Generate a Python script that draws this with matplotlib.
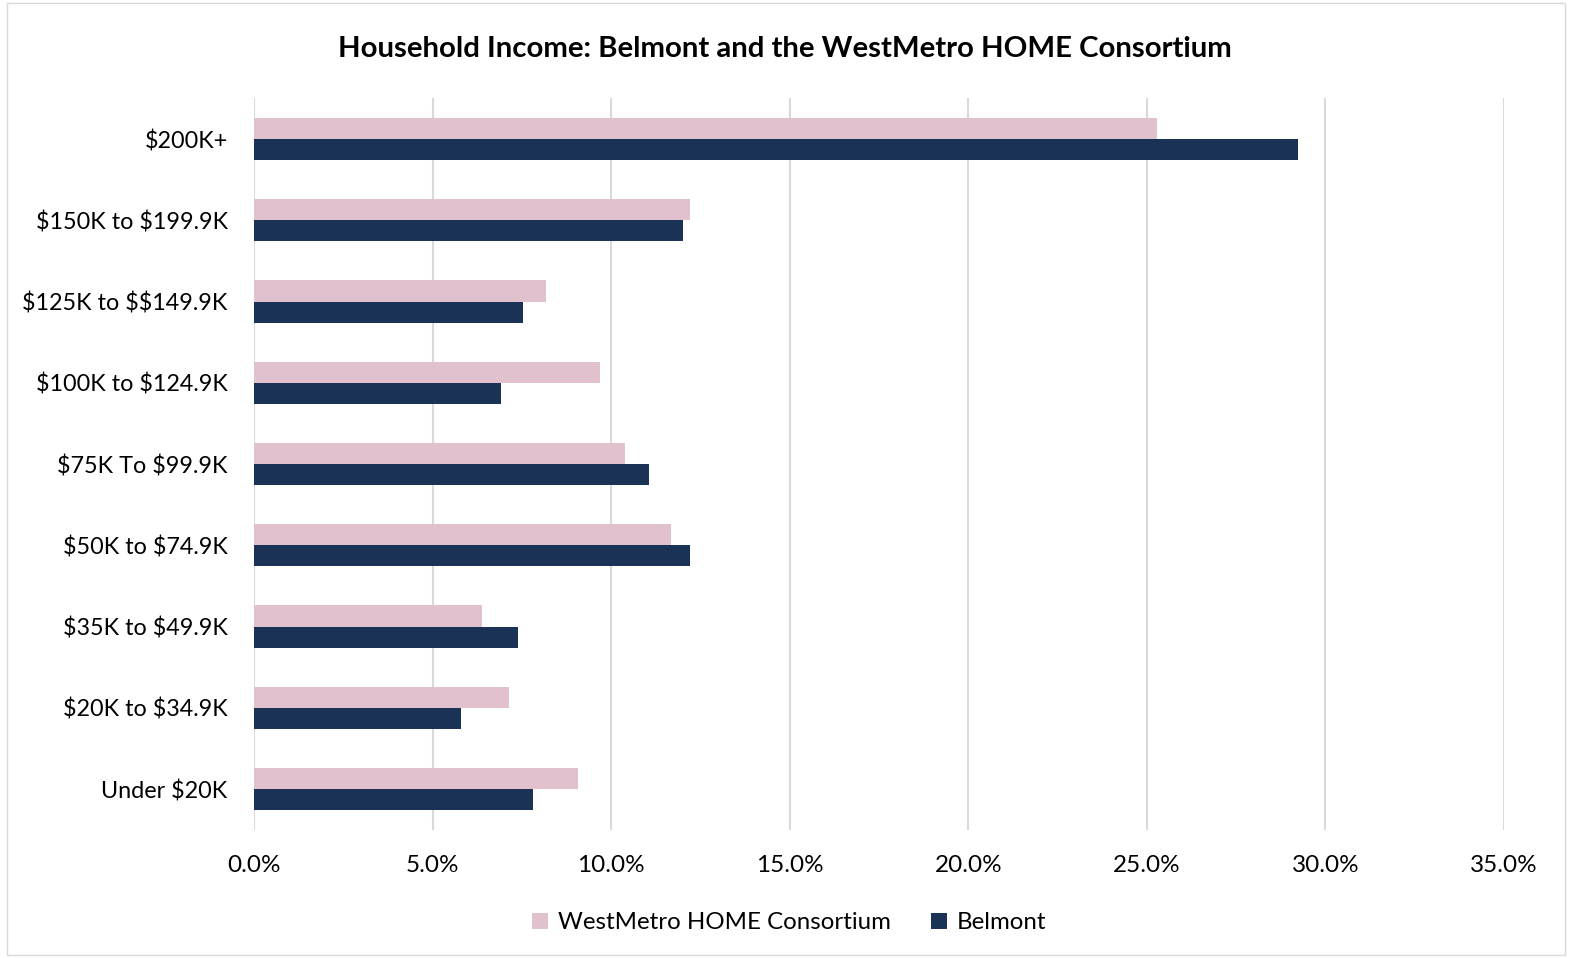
import matplotlib.pyplot as plt
from matplotlib.patches import Rectangle
from matplotlib.ticker import FuncFormatter

plt.rcParams['font.family'] = ['Lato', 'DejaVu Sans']
plt.rcParams['text.parse_math'] = False

categories = ['Under $20K', '$20K to $34.9K', '$35K to $49.9K', '$50K to $74.9K',
              '$75K To $99.9K', '$100K to $124.9K', '$125K to $$149.9K',
              '$150K to $199.9K', '$200K+']
westmetro = [9.07, 7.15, 6.37, 11.68, 10.40, 9.70, 8.17, 12.22, 25.27]
belmont = [7.82, 5.80, 7.40, 12.22, 11.06, 6.92, 7.54, 12.02, 29.23]

pink = '#E2C1CE'
navy = '#1B3257'

fig = plt.figure(figsize=(15.69, 9.58), dpi=100)
ax = fig.add_axes([0.1619, 0.134, 0.7967, 0.7633])

y = list(range(len(categories)))
h = 0.26
ax.barh([i + h / 2 for i in y], westmetro, height=h, color=pink,
        label='WestMetro HOME Consortium', zorder=3)
ax.barh([i - h / 2 for i in y], belmont, height=h, color=navy,
        label='Belmont', zorder=3)

ax.set_xlim(0, 35)
ax.set_ylim(-0.5, len(categories) - 0.5)
ax.set_xticks(range(0, 36, 5))
ax.xaxis.set_major_formatter(FuncFormatter(lambda v, p: f'{v:.1f}%'))
ax.set_yticks(y)
ax.set_yticklabels(categories)
ax.tick_params(axis='y', length=0, labelsize=16.8, colors='black', pad=19)
ax.tick_params(axis='x', length=0, labelsize=17.5, colors='black', pad=18)
ax.grid(axis='x', color='#D9D9D9', linewidth=1.5, zorder=0)
for s in ax.spines.values():
    s.set_visible(False)

fig.text(0.5, 0.949, 'Household Income: Belmont and the WestMetro HOME Consortium',
         ha='center', va='center', fontsize=21.2, fontweight='bold')

fig.legend(loc='center', bbox_to_anchor=(0.503, 0.037), ncol=2, frameon=False,
           fontsize=17.3, handlelength=0.65, handleheight=0.65, handletextpad=0.4,
           columnspacing=1.7)

fig.patches.append(Rectangle((0.0045, 0.003), 0.993, 0.994, transform=fig.transFigure,
                             fill=False, edgecolor='#D9D9D9', linewidth=1))

fig.savefig('out.png', dpi=100)
